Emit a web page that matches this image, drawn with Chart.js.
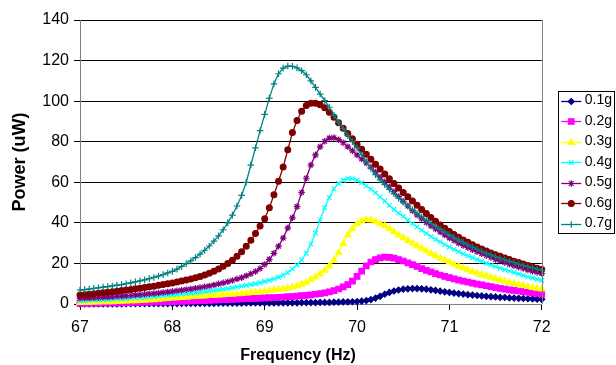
<!DOCTYPE html>
<html>
<head>
<meta charset="utf-8">
<script src="https://cdn.jsdelivr.net/npm/chart.js@4.4.1/dist/chart.umd.min.js"></script>
<style>html,body{margin:0;padding:0;background:#fff;}canvas{display:block;}</style>
</head>
<body>
<canvas id="c" width="616" height="365"></canvas>
<script>
// Frequency (Hz) – categories
const frequencies = [
  67.00,67.05,67.10,67.15,67.20,67.25,67.30,67.35,67.40,67.45,67.50,67.55,67.60,67.65,67.70,67.75,67.80,67.85,67.90,67.95,
  68.00,68.05,68.10,68.15,68.20,68.25,68.30,68.35,68.40,68.45,68.50,68.55,68.60,68.65,68.70,68.75,68.80,68.85,68.90,68.95,
  69.00,69.05,69.10,69.15,69.20,69.25,69.30,69.35,69.40,69.45,69.50,69.55,69.60,69.65,69.70,69.75,69.80,69.85,69.90,69.95,
  70.00,70.05,70.10,70.15,70.20,70.25,70.30,70.35,70.40,70.45,70.50,70.55,70.60,70.65,70.70,70.75,70.80,70.85,70.90,70.95,
  71.00,71.05,71.10,71.15,71.20,71.25,71.30,71.35,71.40,71.45,71.50,71.55,71.60,71.65,71.70,71.75,71.80,71.85,71.90,71.95,
  72.00
];
// Power (uW) for each acceleration level
const power01g = [
  0.1,0.1,0.1,0.1,0.1,0.1,0.1,0.1,0.1,0.1,0.2,0.2,0.2,0.2,0.2,0.2,0.2,0.2,0.2,0.2,
  0.2,0.2,0.3,0.3,0.3,0.3,0.3,0.3,0.3,0.3,0.4,0.4,0.4,0.4,0.4,0.4,0.5,0.5,0.5,0.5,
  0.5,0.5,0.5,0.6,0.6,0.6,0.6,0.6,0.7,0.7,0.7,0.7,0.8,0.8,0.8,0.9,0.9,1.0,1.0,1.1,
  1.2,1.4,1.7,2.2,2.9,3.8,4.8,5.7,6.4,6.9,7.3,7.5,7.6,7.6,7.5,7.3,7.0,6.7,6.3,6.0,
  5.7,5.4,5.1,4.9,4.6,4.4,4.2,4.0,3.8,3.6,3.5,3.3,3.2,3.0,2.9,2.8,2.7,2.6,2.5,2.4,
  2.3
];
const power02g = [
  0.3,0.3,0.4,0.4,0.4,0.5,0.5,0.5,0.6,0.6,0.7,0.7,0.8,0.8,0.9,0.9,1.0,1.0,1.1,1.2,
  1.2,1.3,1.3,1.4,1.5,1.5,1.6,1.7,1.8,1.9,2.0,2.1,2.2,2.3,2.4,2.5,2.6,2.7,2.8,2.9,
  3.0,3.1,3.2,3.3,3.4,3.6,3.7,3.9,4.1,4.3,4.5,4.8,5.1,5.5,6.0,6.6,7.4,8.4,9.6,11.3,
  13.6,16.2,18.8,20.7,21.9,22.7,23.1,23.0,22.6,21.9,21.2,20.3,19.4,18.5,17.4,16.6,15.8,15.0,14.3,13.6,
  13.0,12.4,11.8,11.3,10.8,10.3,9.8,9.4,9.0,8.6,8.1,7.7,7.3,7.0,6.7,6.4,6.1,5.8,5.5,5.2,
  4.9
];
const power03g = [
  0.7,0.8,0.8,0.9,0.9,1.0,1.1,1.1,1.2,1.3,1.4,1.5,1.6,1.7,1.8,2.0,2.1,2.3,2.5,2.7,
  2.9,3.0,3.2,3.3,3.5,3.6,3.8,3.9,4.1,4.2,4.4,4.5,4.7,4.8,5.0,5.2,5.4,5.6,5.8,6.0,
  6.3,6.6,6.9,7.2,7.4,7.8,8.3,8.9,9.7,10.7,11.9,13.2,14.8,16.6,18.7,21.5,25.3,29.8,34.0,37.2,
  39.5,40.9,41.6,41.4,40.7,39.7,38.5,37.2,35.6,34.0,32.6,31.3,30.0,28.7,27.4,26.1,24.9,23.7,22.6,21.6,
  20.6,19.6,18.6,17.7,16.8,16.0,15.2,14.5,13.8,13.1,12.4,11.8,11.2,10.6,10.1,9.6,9.1,8.6,8.1,7.7,
  7.3
];
const power04g = [
  1.6,1.7,1.8,1.9,2.0,2.1,2.2,2.3,2.5,2.6,2.7,2.9,3.0,3.2,3.3,3.5,3.7,3.9,4.1,4.3,
  4.5,4.7,4.9,5.1,5.3,5.6,5.8,6.1,6.4,6.7,7.0,7.3,7.6,8.0,8.4,8.8,9.2,9.6,10.0,10.5,
  11.1,11.7,12.4,13.2,14.2,15.5,17.2,19.2,21.8,25.0,29.5,35.0,41.5,47.5,52.5,56.8,59.5,61.0,61.8,61.8,
  61.0,59.8,58.2,56.6,54.8,52.8,50.8,48.6,46.6,44.8,43.2,41.3,39.6,38.0,36.4,34.8,33.3,31.9,30.6,29.3,
  28.1,26.9,25.8,24.7,23.7,22.8,21.9,21.0,20.1,19.2,18.4,17.6,16.9,16.2,15.5,14.8,14.1,13.4,12.8,12.2,
  11.6
];
const power05g = [
  2.8,2.9,3.0,3.1,3.2,3.4,3.5,3.6,3.8,3.9,4.1,4.2,4.4,4.6,4.8,5.0,5.2,5.4,5.7,5.9,
  6.2,6.5,6.8,7.1,7.4,7.8,8.1,8.5,8.9,9.4,9.9,10.4,11.0,11.6,12.3,13.0,13.9,14.9,16.0,17.5,
  19.5,22.0,25.0,28.5,32.5,37.5,42.5,48.0,55.0,62.0,68.5,73.5,77.5,80.2,81.8,82.0,81.0,79.5,77.5,75.5,
  73.5,71.5,69.5,67.5,65.0,62.5,60.2,57.8,55.4,53.0,50.6,48.3,46.0,43.9,42.0,40.2,38.5,37.0,35.5,34.0,
  32.6,31.3,30.0,28.9,27.8,26.8,25.8,24.8,23.9,23.0,22.0,21.2,20.4,19.6,18.9,18.2,17.5,16.8,16.2,15.6,
  15.0
];
const power06g = [
  4.4,4.6,4.8,5.1,5.3,5.6,5.8,6.1,6.3,6.6,6.9,7.2,7.5,7.8,8.1,8.5,8.8,9.2,9.6,10.0,
  10.4,10.8,11.3,11.8,12.3,12.9,13.5,14.3,15.2,16.2,17.3,18.6,20.0,21.6,23.5,25.8,28.5,31.4,34.7,38.5,
  42.0,47.5,53.8,60.5,67.5,76.0,84.5,90.5,95.0,97.8,99.0,99.0,98.2,96.8,94.5,92.0,89.3,86.6,84.0,81.4,
  78.8,76.3,73.8,71.3,68.9,66.5,64.1,61.7,59.4,57.2,55.0,52.9,50.8,48.7,46.6,44.6,42.6,40.8,39.0,37.3,
  35.8,34.3,32.9,31.6,30.4,29.2,28.1,27.1,26.1,25.2,24.3,23.5,22.7,21.9,21.1,20.4,19.7,19.0,18.3,17.6,
  17.0
];
const power07g = [
  6.9,7.1,7.4,7.7,8.0,8.3,8.6,8.9,9.3,9.6,10.0,10.4,10.9,11.4,11.9,12.5,13.1,13.8,14.5,15.3,
  16.1,17.2,18.5,19.9,21.3,22.9,24.6,26.5,28.6,31.0,33.6,36.6,40.0,43.8,48.3,53.5,60.0,68.5,77.0,85.5,
  93.5,101.5,108.5,113.5,116.3,117.3,117.2,116.4,115.0,113.0,110.0,106.8,103.5,100.3,97.0,93.0,89.5,86.5,83.0,80.0,
  77.0,73.6,70.2,66.8,63.8,61.2,58.8,56.5,54.3,52.2,50.2,48.3,46.4,44.6,42.9,41.3,39.8,38.3,36.9,35.5,
  34.2,32.9,31.6,30.4,29.2,28.1,27.0,26.0,25.1,24.2,23.4,22.6,21.8,21.1,20.4,19.7,19.0,18.4,17.8,17.2,
  16.6
];
const seriesLabels = ['0.1g','0.2g','0.3g','0.4g','0.5g','0.6g','0.7g'];
const seriesValues = [power01g, power02g, power03g, power04g, power05g, power06g, power07g];
const xTickValues = [67, 68, 69, 70, 71, 72];
const yTickValues = [0, 20, 40, 60, 80, 100, 120, 140];

const seriesStyles = [
  {color:'#000080', pointStyle:'rectRot',  radius:3.0},
  {color:'#FF00FF', pointStyle:'rect',     radius:3.9},
  {color:'#FFFF00', pointStyle:'triangle', radius:3.6},
  {color:'#00FFFF', pointStyle:'crossRot', radius:3.2},
  {color:'#800080', pointStyle:'star',     radius:3.3},
  {color:'#800000', pointStyle:'circle',   radius:2.9},
  {color:'#008080', pointStyle:'cross',    radius:3.3}
];

const FONT = "'Liberation Sans', Arial, sans-serif";
Chart.defaults.font.family = FONT;
Chart.defaults.color = '#000';

const datasets = seriesValues.map((vals, i) => {
  const st = seriesStyles[i];
  return {
    label: seriesLabels[i],
    data: vals.map((v, k) => ({x: frequencies[k], y: v})),
    borderColor: st.color,
    backgroundColor: st.color,
    borderWidth: 1.3,
    pointStyle: st.pointStyle,
    pointRadius: st.radius,
    pointHoverRadius: st.radius,
    pointBackgroundColor: st.color,
    pointBorderColor: st.color,
    pointBorderWidth: 1.2,
    tension: 0,
    clip: false,
    order: seriesValues.length - 1 - i
  };
});

const legendDecor = {
  id: 'legendDecor',
  afterDraw(chart) {
    const lg = chart.legend;
    if (!lg || !lg.legendHitBoxes || !lg.legendHitBoxes.length) return;
    const ctx = chart.ctx;
    const hbs = lg.legendHitBoxes;
    const bw = lg.options.labels.boxWidth;
    const fs = 14;
    ctx.save();
    const textX0 = hbs[0].left + bw + fs / 2;
    const fx = Math.round(textX0 - 27) + 0.5;
    const fy = Math.round(hbs[0].top - 3) + 0.5;
    const fb = Math.round(hbs[hbs.length - 1].top + hbs[hbs.length - 1].height + 2) + 0.5;
    ctx.strokeStyle = '#000';
    ctx.lineWidth = 1;
    ctx.strokeRect(fx, fy, 614.5 - fx, fb - fy);
    hbs.forEach((hb, i) => {
      const st = seriesStyles[i];
      const tx = hb.left + bw + fs / 2;
      const cy = Math.round(hb.top + hb.height / 2) + 0.5;
      ctx.strokeStyle = st.color;
      ctx.fillStyle = st.color;
      ctx.lineWidth = 1.3;
      ctx.beginPath();
      ctx.moveTo(tx - 23.5, cy);
      ctx.lineTo(tx - 3.5, cy);
      ctx.stroke();
      ctx.lineWidth = 1.2;
      Chart.helpers.drawPoint(ctx, {pointStyle: st.pointStyle, radius: st.radius, rotation: 0, borderWidth: 1.2}, tx - 13.5, cy);
    });
    ctx.restore();
  }
};

const frameAndTitle = {
  id: 'frameAndTitle',
  afterDraw(chart) {
    const ctx = chart.ctx;
    const a = chart.chartArea;
    ctx.save();
    ctx.strokeStyle = '#808080';
    ctx.lineWidth = 1;
    ctx.beginPath();
    ctx.moveTo(Math.round(a.right) + 0.5, a.top);
    ctx.lineTo(Math.round(a.right) + 0.5, a.bottom);
    ctx.stroke();
    ctx.fillStyle = '#000';
    ctx.font = "bold 16px " + FONT;
    ctx.textAlign = 'center';
    ctx.textBaseline = 'middle';
    ctx.fillText('Frequency (Hz)', 298, 356);
    ctx.restore();
  }
};

new Chart(document.getElementById('c'), {
  type: 'line',
  data: { datasets },
  options: {
    responsive: false,
    animation: false,
    devicePixelRatio: 1,
    layout: { padding: { top: 20, right: -6, bottom: 0, left: 0 } },
    plugins: {
      tooltip: { enabled: false },
      legend: {
        display: true,
        position: 'right',
        align: 'center',
        fullSize: false,
        labels: {
          boxWidth: 29.5,
          boxHeight: 14,
          padding: 6.5,
          font: { size: 14, family: FONT },
          color: '#000',
          generateLabels: (chart) => chart.data.datasets.map((ds, i) => ({
            text: ds.label,
            fillStyle: 'rgba(0,0,0,0)',
            strokeStyle: 'rgba(0,0,0,0)',
            lineWidth: 0,
            hidden: false,
            datasetIndex: i,
            fontColor: '#000'
          }))
        }
      }
    },
    scales: {
      x: {
        type: 'linear',
        min: 67,
        max: 72,
        afterBuildTicks: (s) => { s.ticks = xTickValues.map(v => ({value: v})); },
        afterFit: (s) => { s.height = 61; },
        ticks: { font: { size: 16 }, color: '#000', padding: 8, maxRotation: 0, callback: (v) => String(v) },
        grid: { drawOnChartArea: false, drawTicks: true, tickLength: 6, tickColor: '#000', color: '#000' },
        border: { display: true, color: '#808080', width: 1 },
        title: { display: false }
      },
      y: {
        type: 'linear',
        min: 0,
        max: 140,
        afterBuildTicks: (s) => { s.ticks = yTickValues.map(v => ({value: v})); },
        afterFit: (s) => { s.width = 80; },
        ticks: { font: { size: 16 }, color: '#000', padding: 5, callback: (v) => String(v) },
        grid: { color: '#000', lineWidth: 1, drawTicks: true, tickLength: 6, tickColor: '#000' },
        border: { display: true, color: '#808080', width: 1 },
        title: { display: true, text: 'Power (uW)', font: { size: 18, weight: 'bold' }, color: '#000', padding: { top: 9, bottom: 0 } }
      }
    }
  },
  plugins: [legendDecor, frameAndTitle]
});
</script>
</body>
</html>
